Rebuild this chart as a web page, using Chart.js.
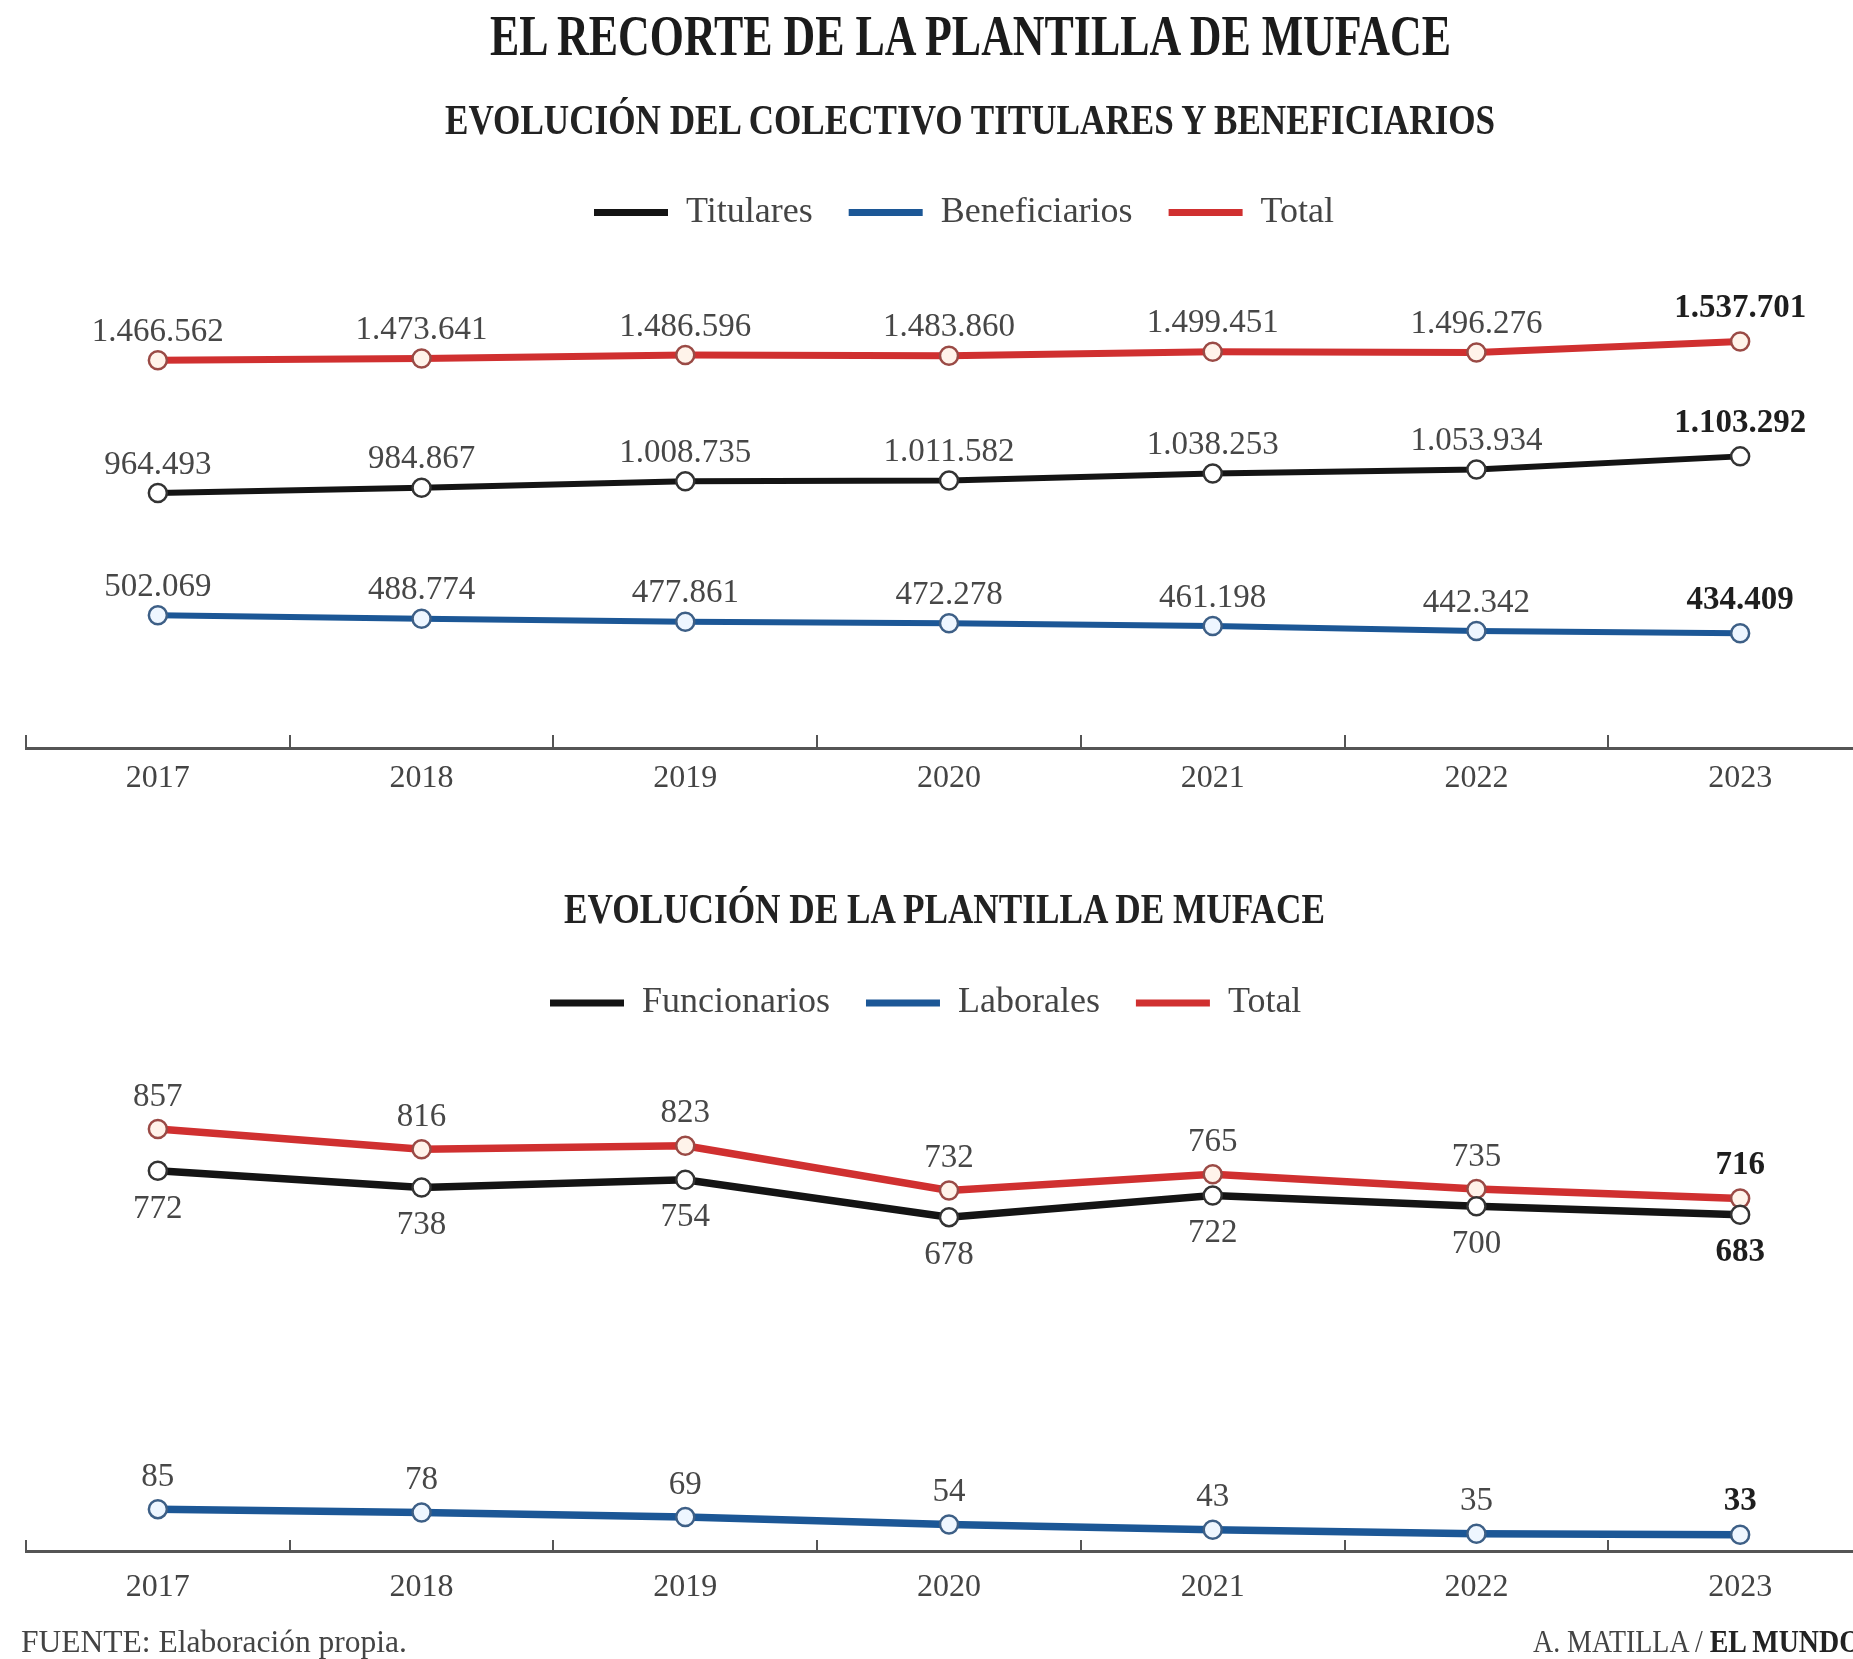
<!DOCTYPE html>
<html><head><meta charset="utf-8">
<script src="https://cdn.jsdelivr.net/npm/chart.js@4.4.1/dist/chart.umd.min.js"></script>
<style>
html,body{margin:0;padding:0;width:1853px;height:1659px;overflow:hidden;background:#fff;}
#page{position:relative;width:1853px;height:1659px;overflow:hidden;background:#fff;}
canvas{position:absolute;left:0;}
.t{position:absolute;white-space:nowrap;font-family:"Liberation Serif",serif;line-height:1;transform-origin:left top;}
</style></head><body>
<div id="page">
<canvas id="c1" width="1900" height="830" style="top:0px"></canvas>
<canvas id="c2" width="1900" height="740" style="top:900px"></canvas>
<div class="t" id="title" style="top:7px;font-size:58px;font-weight:bold;color:#1b1b1b;">EL RECORTE DE LA PLANTILLA DE MUFACE</div>
<div class="t" id="sub1" style="top:99px;font-size:42px;font-weight:bold;color:#222;">EVOLUCIÓN DEL COLECTIVO TITULARES Y BENEFICIARIOS</div>
<div class="t" id="sub2" style="top:888px;font-size:42px;font-weight:bold;color:#222;">EVOLUCIÓN DE LA PLANTILLA DE MUFACE</div>
<div class="t" id="foot1" style="top:1626px;font-size:31px;color:#444;">FUENTE: Elaboración propia.</div>
<div class="t" id="foot2" style="top:1626px;left:1533px;font-size:31px;color:#444;transform:scaleX(0.9);">A. MATILLA / <b style="color:#222">EL MUNDO</b></div>
</div>
<script>
// ---- data ----
const years = ['2017', '2018', '2019', '2020', '2021', '2022', '2023'];
const titulares = [964493, 984867, 1008735, 1011582, 1038253, 1053934, 1103292];
const beneficiarios = [502069, 488774, 477861, 472278, 461198, 442342, 434409];
const totalColectivo = [1466562, 1473641, 1486596, 1483860, 1499451, 1496276, 1537701];
const funcionarios = [772, 738, 754, 678, 722, 700, 683];
const laborales = [85, 78, 69, 54, 43, 35, 33];
const totalPlantilla = [857, 816, 823, 732, 765, 735, 716];

// ---- text fitting for html headings ----
function fitText(id, left, width) {
  const el = document.getElementById(id);
  el.style.left = left + 'px';
  const w = el.getBoundingClientRect().width;
  el.style.transform = 'scaleX(' + (width / w) + ')';
}
fitText('title', 490, 961);
fitText('sub1', 445, 1050);
fitText('sub2', 564, 761);
fitText('foot1', 21, 386);

Chart.defaults.font.family = '"Liberation Serif", "DejaVu Serif", serif';

const BLACK = '#141414', BLUE = '#1c5796', RED = '#d03030';

function fmt(v) { return String(v).replace(/\B(?=(\d{3})+(?!\d))/g, '.'); }

const valueLabels = {
  id: 'valueLabels',
  afterDatasetsDraw(chart, args, opts) {
    const ctx = chart.ctx;
    ctx.save();
    ctx.textAlign = 'center';
    ctx.textBaseline = 'middle';
    chart.data.datasets.forEach((ds, di) => {
      const meta = chart.getDatasetMeta(di);
      meta.data.forEach((pt, i) => {
        const last = i === meta.data.length - 1;
        ctx.font = (last ? 'bold ' : '') + opts.size + 'px "Liberation Serif"';
        ctx.fillStyle = last ? '#1e1e1e' : '#474747';
        let off;
        if (ds.labelPos === 'below') off = opts.below;
        else off = -(last ? opts.aboveLast : opts.above);
        ctx.fillText(fmt(ds.data[i]), pt.x, pt.y + off);
      });
    });
    ctx.restore();
  }
};

const legendShift = {
  id: 'legendShift',
  afterLayout(chart, args, opts) {
    const lg = chart.legend;
    if (!lg || opts.startX == null) return;
    const pad = lg.options.labels.padding;
    const start = (lg.left + pad + lg.right - lg.lineWidths[0]) / 2;
    const dx = opts.startX - start;
    lg.left += dx; lg.right += dx;
  }
};

function ds(label, data, color, ptFill, ptBorder, width, labelPos) {
  return {
    label, data, labelPos,
    borderColor: color, backgroundColor: color,
    borderWidth: width, tension: 0,
    pointRadius: 9, pointHoverRadius: 9,
    pointBackgroundColor: ptFill, pointBorderColor: ptBorder, pointBorderWidth: 2.5,
    clip: false
  };
}

function options(pad, yMax, tickLen, tickPad, legendStart, lbl) {
  return {
    responsive: false, animation: false,
    layout: { padding: pad },
    plugins: {
      legend: {
        position: 'top',
        labels: {
          boxWidth: 74, boxHeight: 7, padding: 36,
          color: '#444', font: { size: 36 },
          generateLabels(chart) {
            return chart.data.datasets.map((d, i) => ({
              text: d.label, fillStyle: d.borderColor, strokeStyle: d.borderColor,
              lineWidth: 0, hidden: false, datasetIndex: i, fontColor: '#444'
            }));
          }
        }
      },
      tooltip: { enabled: false },
      legendShift: { startX: legendStart },
      valueLabels: lbl
    },
    scales: {
      x: {
        type: 'category', offset: true,
        grid: { offset: true, drawOnChartArea: false, drawTicks: true, tickLength: tickLen, color: '#555', lineWidth: 2 },
        border: { display: true, color: '#555', width: 3 },
        ticks: { color: '#444', font: { size: 32 }, padding: tickPad, maxRotation: 0, autoSkip: false }
      },
      y: { display: false, min: 0, max: yMax }
    }
  };
}

new Chart(document.getElementById('c1'), {
  type: 'line',
  data: {
    labels: years,
    datasets: [
      ds('Titulares', titulares, BLACK, '#ffffff', '#333333', 6, 'above'),
      ds('Beneficiarios', beneficiarios, BLUE, '#eef6ff', '#3d5f86', 6, 'above'),
      ds('Total', totalColectivo, RED, '#fff3ea', '#9a4a45', 7, 'above')
    ]
  },
  options: options({ top: 158.5, bottom: 8.6, left: 26, right: 28 }, 1920000, -13, 24, 594,
    { size: 33, above: 28, aboveLast: 33, below: 38 }),
  plugins: [valueLabels, legendShift]
});

new Chart(document.getElementById('c2'), {
  type: 'line',
  data: {
    labels: years,
    datasets: [
      ds('Funcionarios', funcionarios, BLACK, '#ffffff', '#333333', 7.5, 'below'),
      ds('Laborales', laborales, BLUE, '#eef6ff', '#3d5f86', 7.5, 'above'),
      ds('Total', totalPlantilla, RED, '#fff3ea', '#9a4a45', 7.5, 'above')
    ]
  },
  options: options({ top: 49, bottom: 5.6, left: 26, right: 28 }, 1056, -11, 28, 550,
    { size: 33, above: 32, aboveLast: 33, below: 38 }),
  plugins: [valueLabels, legendShift]
});
</script>
</body></html>
